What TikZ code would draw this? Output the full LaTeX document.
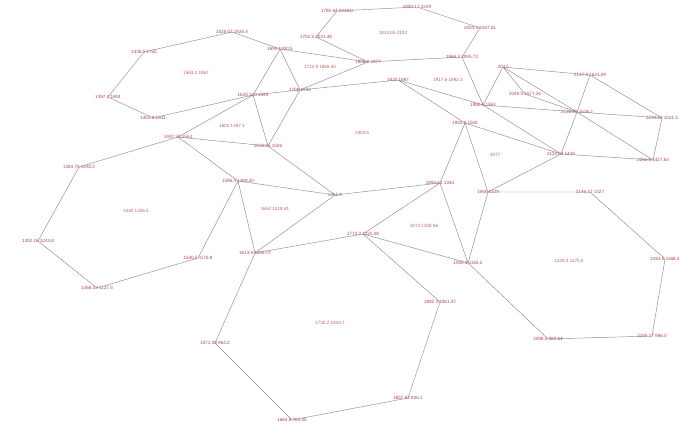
\documentclass[tikz,border=0pt]{standalone}
\usepackage{fontspec}
\setmainfont{Liberation Sans}
\definecolor{vlabel}{RGB}{178,70,70}
\definecolor{eline}{RGB}{140,140,140}
\tikzset{
  vx/.style={text=vlabel,inner sep=0.5pt,font=\fontsize{4.6}{5}\selectfont},
  face/.style={text=vlabel!85,inner sep=0.5pt,font=\fontsize{4.6}{5}\selectfont},
  edge/.style={eline,line width=0.45pt}
}
\begin{document}
\begin{tikzpicture}[x=1pt,y=-1pt]
    \useasboundingbox[fill=white] (0,0) rectangle (684,428);
    % vertices, top left
    \node[vx] (A) at (144,52) {1436.5 1752};
    \node[vx] (B) at (232,32) {1528.07 1926.4};
    \node[vx] (C) at (108,97) {1397.2 1804};
    \node[vx] (D) at (153,118) {1452.8 1611};
    \node[vx] (E) at (178,137) {1487.30 1553};
    \node[vx] (F) at (280,49) {1694 1930.5};
    \node[vx] (H) at (253,95) {1620 183 1595};
    \node[vx] (K) at (300,90) {1708 1726};
    \node[vx] (L) at (368,62) {1806.9 1877};
    % top row
    \node[vx] (M) at (316,37) {1752.5 2031.48};
    \node[vx] (N1) at (337,11) {1780.64 2218.0};
    \node[vx] (N2) at (417,7) {1893.17 2249};
    \node[vx] (N3) at (480,28) {2004.3 2187.51};
    \node[vx] (N4) at (462,57) {1966.2 2095.73};
    \node[vx] (R) at (398,80) {1920 1987};
    % middle and left
    \node[vx] (Q) at (268,146) {1632.05 1506};
    \node[vx] (S) at (335,195) {1751.9};
    \node[vx] (T) at (238,181) {1596.4 1388.20};
    \node[vx] (U) at (255,253) {1613.8 1190.72};
    \node[vx] (V) at (198,258) {1540.5 1176.9};
    \node[vx] (I) at (79,167) {1384.70 1430.2};
    \node[vx] (J) at (38,241) {1302.16 1243.8};
    \node[vx] (Jb) at (97,288) {1368.43 1127.5};
    % lower middle
    \node[vx] (W) at (363,234) {1773.2 1225.08};
    \node[vx] (X) at (440,183) {1890.61 1344};
    \node[vx] (Y) at (468,263) {1935.4 1155.2};
    \node[vx] (Z) at (440,302) {1892.3 1061.47};
    \node[vx] (AA) at (408,398) {1857.62 836.1};
    \node[vx] (AB) at (292,420) {1664.9 780.35};
    \node[vx] (AC) at (215,343) {1571.08 964.2};
    % right side
    \node[vx] (XA) at (465,123) {1932.8 1502};
    \node[vx] (XB) at (488,192) {1965 1329};
    \node[vx] (XC) at (590,192) {2146.37 1327};
    \node[vx] (XD) at (665,259) {2263.5 1168.4};
    \node[vx] (XE) at (652,336) {2245.17 986.0};
    \node[vx] (XF) at (548,339) {2098.2 980.64};
    \node[vx] (XG) at (561,154) {2113.54 1418};
    \node[vx] (P1) at (483,105) {1950.6 1553};
    \node[vx] (P2) at (503,67) {2017};
    \node[vx] (P3) at (577,112) {2130.86 1536.2};
    \node[vx] (P4) at (590,75) {2147.3 1621.09};
    \node[vx] (P5) at (525,94) {2049.5 1577.34};
    \node[vx] (P6) at (662,118) {2270.12 1521.4};
    \node[vx] (P7) at (653,160) {2256.8 1427.63};
    % face names
    \node[face] (fa) at (196,73) {1563.3 1867};
    \node[face] (fb) at (136,211) {1440 1326 5};
    \node[face] (fc) at (232,126) {1601 1497 3};
    \node[face] (fd) at (320,67) {1722.9 1868.40};
    \node[face] (fe) at (393,33) {1823.05 2102};
    \node[face] (ff) at (362,133) {1803.6};
    \node[face] (fg) at (275,209) {1652 1318 41};
    \node[face] (fh) at (448,80) {1917.6 1992.3};
    \node[face] (fi) at (424,226) {1873 1258 66};
    \node[face] (fj) at (330,323) {1730.2 1043.7};
    \node[face] (fk) at (569,261) {2129.4 1175.5};
    \node[face] (fl) at (495,155) {1977};
    % edges
    \draw[edge] (A.center)--(B.center) (A.center)--(C.center) (C.center)--(D.center);
    \draw[edge] (D.center)--(H.center) (E.center)--(H.center) (B.center)--(F.center);
    \draw[edge] (F.center)--(H.center) (F.center)--(L.center) (F.center)--(K.center);
    \draw[edge] (H.center)--(K.center) (H.center)--(Q.center) (K.center)--(Q.center);
    \draw[edge] (E.center)--(Q.center) (K.center)--(L.center) (K.center)--(R.center);
    \draw[edge] (L.center)--(M.center) (L.center)--(N4.center) (M.center)--(N1.center);
    \draw[edge] (N1.center)--(N2.center) (N2.center)--(N3.center) (N3.center)--(N4.center);
    \draw[edge] (N4.center)--(P1.center) (R.center)--(P1.center) (R.center)--(XA.center);
    \draw[edge] (XA.center)--(X.center) (XA.center)--(XB.center) (XA.center)--(XG.center);
    \draw[edge] (Q.center)--(S.center) (E.center)--(T.center) (T.center)--(S.center);
    \draw[edge] (T.center)--(U.center) (T.center)--(V.center) (S.center)--(U.center);
    \draw[edge] (S.center)--(X.center) (U.center)--(W.center) (W.center)--(X.center);
    \draw[edge] (W.center)--(Y.center) (X.center)--(Y.center) (W.center)--(Z.center);
    \draw[edge] (Z.center)--(AA.center) (AA.center)--(AB.center) (AB.center)--(AC.center);
    \draw[edge] (AC.center)--(U.center) (E.center)--(I.center) (I.center)--(J.center);
    \draw[edge] (J.center)--(Jb.center) (Jb.center)--(V.center);
    \draw[edge] (XB.center)--(Y.center) (XB.center)--(XC.center) (XB.center)--(XG.center);
    \draw[edge] (XC.center)--(XD.center) (XD.center)--(XE.center) (XE.center)--(XF.center);
    \draw[edge] (XF.center)--(Y.center);
    \draw[edge] (P1.center)--(P2.center) (P1.center)--(P3.center) (P1.center)--(XG.center);
    \draw[edge] (P2.center)--(P4.center) (P2.center)--(P3.center) (P2.center)--(P5.center);
    \draw[edge] (P5.center)--(P3.center) (P4.center)--(P3.center) (P3.center)--(XG.center);
    \draw[edge] (P3.center)--(P6.center) (P3.center)--(P7.center) (P4.center)--(P6.center);
    \draw[edge] (P6.center)--(P7.center) (XG.center)--(P7.center);
\end{tikzpicture}
\end{document}
